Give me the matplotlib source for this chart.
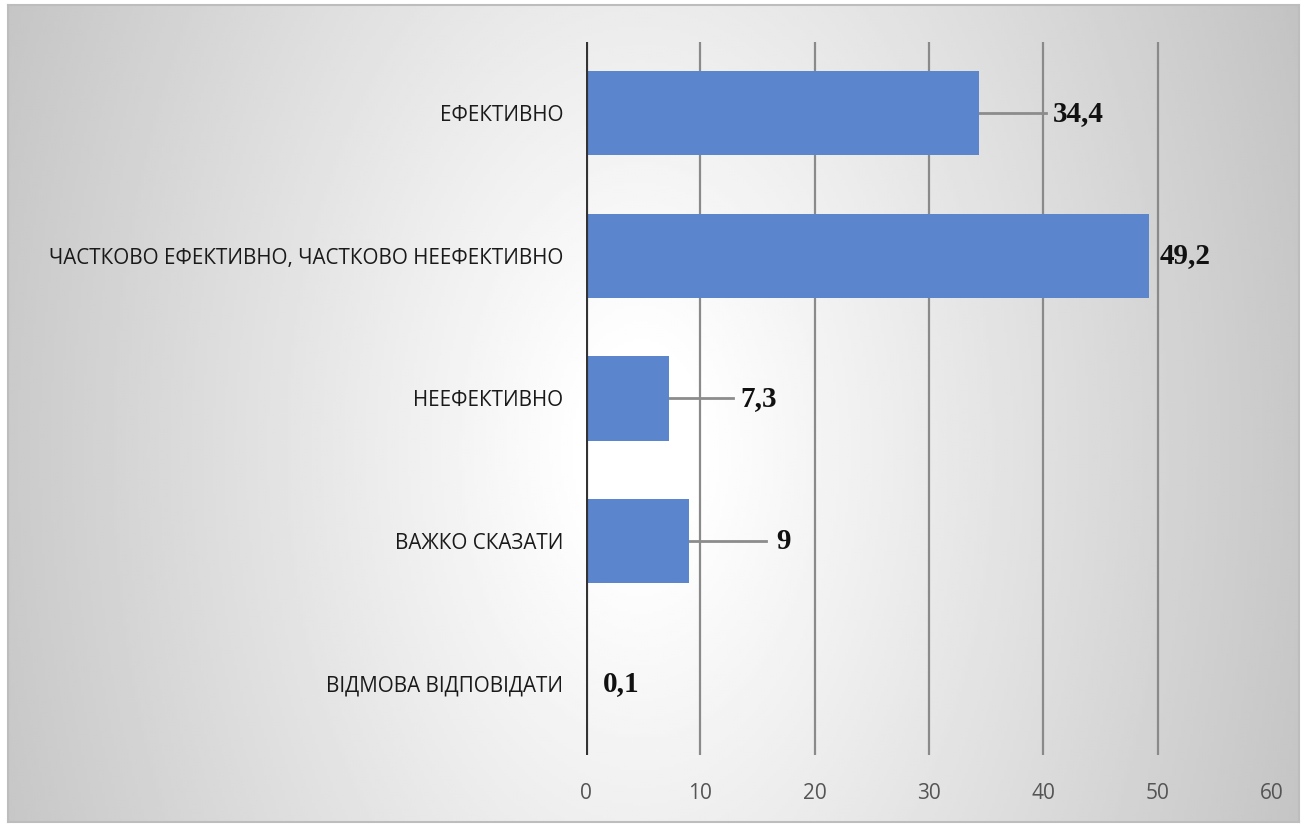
import matplotlib.pyplot as plt
import numpy as np

categories = ["ЕФЕКТИВНО",
              "ЧАСТКОВО ЕФЕКТИВНО, ЧАСТКОВО НЕЕФЕКТИВНО",
              "НЕЕФЕКТИВНО",
              "ВАЖКО СКАЗАТИ",
              "ВІДМОВА ВІДПОВІДАТИ"]
values = [34.4, 49.2, 7.3, 9, 0.1]
value_labels = ["34,4", "49,2", "7,3", "9", "0,1"]
x_ticks = [0, 10, 20, 30, 40, 50, 60]

# where the data labels sit (x in data units), None = no leader line
label_x = [40.8, 50.2, 13.5, 16.6, 1.5]
leader_end = [40.2, None, 12.9, 15.7, None]

fig = plt.figure(figsize=(13.07, 8.27), dpi=100)

# gradient panel behind everything (pixel coords of the panel)
x0, x1, y0, y1 = 8, 1299, 5, 822
bg = fig.add_axes([x0 / 1307, (827 - y1) / 827, (x1 - x0) / 1307, (y1 - y0) / 827], zorder=0)
px, py = np.meshgrid(np.arange(x0, x1, 3), np.arange(y0, y1, 3))
d = np.sqrt((px - 640.0) ** 2 + ((py - 450.0) / 1.6) ** 2)
shade = np.clip(1.0 - 0.00036 * np.clip(d - 60, 0, None), 0.74, 1.0)
bg.imshow(shade, cmap="gray", vmin=0, vmax=1, aspect="auto",
          extent=[x0, x1, y1, y0], interpolation="bilinear")
bg.set_xlim(x0, x1)
bg.set_ylim(y1, y0)
for s in bg.spines.values():
    s.set_color("#bdbdbd")
    s.set_linewidth(1.5)
bg.set_xticks([])
bg.set_yticks([])

ax = fig.add_axes([586 / 1307, 72 / 827, (1272 - 586) / 1307, (755 - 42) / 827], zorder=1)
ax.patch.set_visible(False)

y = np.arange(len(categories))
ax.barh(y, values, height=0.59, color="#5B86CD", zorder=3)

for g in x_ticks[1:-1]:
    ax.axvline(g, color="#8a8a8a", lw=1.6, zorder=1)
ax.axvline(0, color="#333333", lw=3, zorder=4)

for i in range(len(values)):
    if leader_end[i] is not None:
        ax.plot([values[i], leader_end[i]], [y[i], y[i]], color="#8c8c8c", lw=2, zorder=2)
    ax.text(label_x[i], y[i], value_labels[i], ha="left", va="center",
            family="Liberation Serif", fontweight="bold", fontsize=21, color="#111111")

ax.set_xlim(0, 60)
ax.set_ylim(len(categories) - 0.5, -0.5)
ax.set_yticks(y)
ax.set_yticklabels(categories, family="Open Sans", fontsize=14.9, color="#1a1a1a")
ax.set_xticks(x_ticks)
ax.set_xticklabels([str(t) for t in x_ticks], family="Open Sans", fontsize=15, color="#555555")
ax.tick_params(axis="y", length=0, pad=16.5)
ax.tick_params(axis="x", length=0, pad=20)
for s in ax.spines.values():
    s.set_visible(False)

plt.savefig("out.png", dpi=100, facecolor="white")
